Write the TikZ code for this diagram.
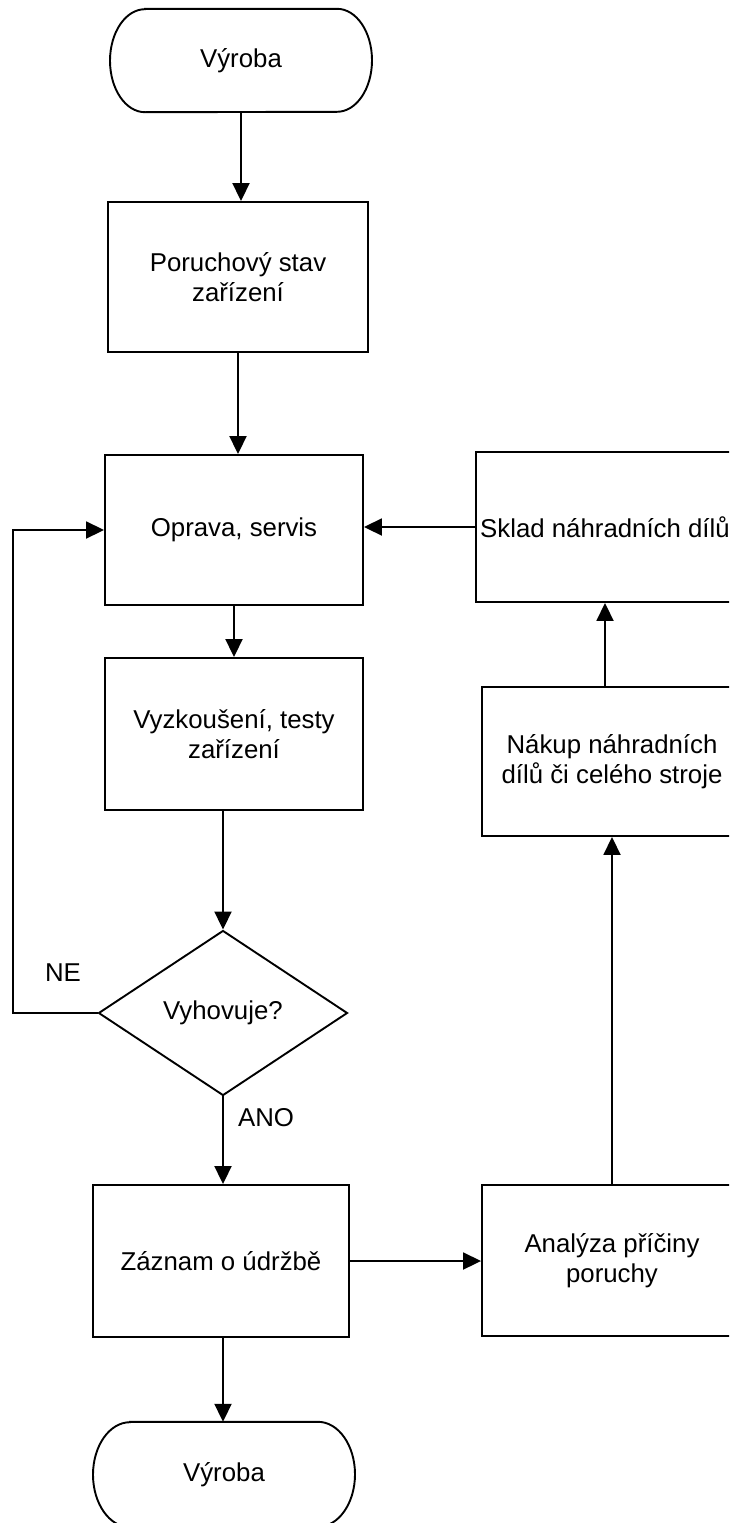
\documentclass[tikz,border=0pt]{standalone}
\usepackage{fontspec}
\setmainfont{Liberation Sans}
\usetikzlibrary{arrows.meta,shapes.geometric,calc}
\begin{document}
\begin{tikzpicture}[x=1pt,y=-1pt,
  every node/.style={font=\fontsize{25.8}{29.5}\selectfont, align=center, inner sep=0pt},
  box/.style={draw, line width=1.9pt, rectangle, minimum width=#1},
  box/.default=258,
  term/.style={draw=none, rectangle},
  outl/.style={line width=1.9pt},
  dec/.style={draw, line width=1.9pt, diamond, minimum width=249pt, minimum height=165pt, aspect=1.5},
  conn/.style={line width=1.9pt},
  arr/.style={conn, -{Triangle[length=18pt,width=17pt]}},
  lbl/.style={font=\fontsize{25.8}{29.5}\selectfont}
]
\useasboundingbox (0,0) rectangle (729,1523);
\clip (0,0) rectangle (729,1523);

% terminals
\node[term, minimum width=262pt, minimum height=103pt] (t1) at (241,60.5) {Výroba};
\draw[outl] ([xshift=-96pt]t1.north) -- ([xshift=96pt]t1.north)
   arc[start angle=-90, end angle=90, x radius=35, y radius=51.5]
   -- ([xshift=-96pt]t1.south)
   arc[start angle=90, end angle=270, x radius=35, y radius=51.5] -- cycle;

\node[term, minimum width=262pt, minimum height=105pt] (t2) at (224,1474.5) {Výroba};
\draw[outl] ([xshift=-94pt]t2.north) -- ([xshift=94pt]t2.north)
   arc[start angle=-90, end angle=90, x radius=37, y radius=52.5]
   -- ([xshift=-94pt]t2.south)
   arc[start angle=90, end angle=270, x radius=37, y radius=52.5] -- cycle;

% left column
\node[box=260pt, minimum height=150pt] (b2) at (238,277) {Poruchový stav\\zařízení};
\node[box=258pt, minimum height=150pt] (b3) at (234,530) {Oprava, servis};
\node[box=258pt, minimum height=152pt] (b4) at (234,734) {Vyzkoušení, testy\\zařízení};
\node[dec] (d) at (223,1013) {Vyhovuje?};
\node[box=256pt, minimum height=152pt] (b5) at (221,1261) {Záznam o údržbě};

% right column
\node[box=258pt, minimum height=150pt] (r1) at (605,527) {Sklad náhradních dílů};
\node[box=260pt, minimum height=149pt] (r2) at (612,761.5) {Nákup náhradních\\dílů či celého stroje};
\node[box=260pt, minimum height=151pt] (r3) at (612,1260.5) {Analýza příčiny\\poruchy};

% labels
\node[lbl] (ne) at (63,973) {NE};
\node[lbl] (ano) at (266,1118) {ANO};

% connectors
\draw[arr] (t1.south) -- (t1.south |- b2.north);
\draw[arr] (b2.south) -- (b2.south |- b3.north);
\draw[arr] (b3.south) -- (b3.south |- b4.north);
\draw[arr] (d.north |- b4.south) -- (d.north);
\draw[arr] (d.south) -- (d.south |- b5.north);
\draw[arr] (d.south |- b5.south) -- (d.south |- t2.north);
\coordinate (loop) at (13,1013);
\draw[arr] (d.west) -- (loop) |- (b3.west);
\draw[arr] (r1.west) -- (r1.west -| b3.east);
\draw[arr] (r1.south |- r2.north) -- (r1.south);
\draw[arr] (r3.north) -- (r2.south);
\draw[arr] (b5.east) -- (b5.east -| r3.west);
\end{tikzpicture}
\end{document}
